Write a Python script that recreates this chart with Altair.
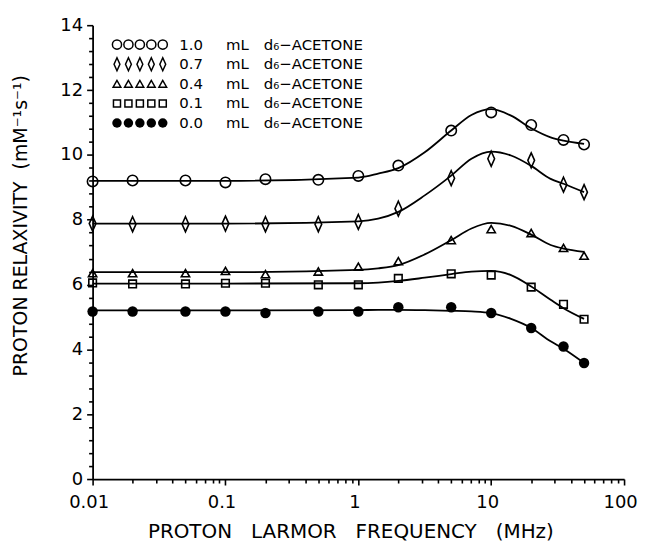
import altair as alt
import pandas as pd

# ---------------- data ----------------
freq = [0.01, 0.02, 0.05, 0.1, 0.2, 0.5, 1, 2, 5, 10, 20, 35, 50]
r_10 = [9.18, 9.21, 9.21, 9.15, 9.25, 9.23, 9.35, 9.67, 10.75, 11.31, 10.92, 10.46, 10.32]
r_07 = [7.88, 7.86, 7.86, 7.88, 7.86, 7.86, 7.93, 8.34, 9.28, 9.88, 9.83, 9.08, 8.85]
r_04 = [6.35, 6.35, 6.35, 6.42, 6.32, 6.40, 6.55, 6.72, 7.37, 7.71, 7.59, 7.13, 6.89]
r_01 = [6.05, 6.02, 6.02, 6.04, 6.04, 5.99, 5.99, 6.19, 6.33, 6.29, 5.92, 5.39, 4.93]
r_00 = [5.17, 5.17, 5.17, 5.17, 5.12, 5.17, 5.17, 5.30, 5.30, 5.12, 4.66, 4.09, 3.58]

curve_freq = [0.01, 0.1, 1, 1.41, 2, 3.16, 5, 7.1, 10, 14.1, 20, 28, 35, 50]
c_10 = [9.20, 9.20, 9.30, 9.42, 9.59, 10.08, 10.75, 11.23, 11.41, 11.21, 10.82, 10.54, 10.44, 10.34]
c_07 = [7.88, 7.88, 7.95, 8.03, 8.24, 8.75, 9.36, 9.88, 10.10, 9.98, 9.66, 9.26, 9.11, 8.85]
c_04 = [6.38, 6.38, 6.45, 6.50, 6.60, 6.93, 7.37, 7.73, 7.90, 7.81, 7.54, 7.22, 7.11, 7.01]
c_01 = [6.03, 6.03, 6.04, 6.06, 6.11, 6.21, 6.32, 6.40, 6.42, 6.29, 5.94, 5.53, 5.27, 4.94]
c_00 = [5.20, 5.20, 5.21, 5.22, 5.22, 5.21, 5.19, 5.17, 5.12, 4.94, 4.66, 4.25, 4.02, 3.58]

volumes = ["1.0", "0.7", "0.4", "0.1", "0.0"]
unit_label = "mL"
solvent_label = "d\u2086\u2212ACETONE"
x_title = "PROTON\u00a0\u00a0 LARMOR\u00a0\u00a0 FREQUENCY\u00a0\u00a0 (MHz)"
y_title = "PROTON RELAXIVITY\u00a0 (mM\u207b\u00b9s\u207b\u00b9)"

series_points = [r_10, r_07, r_04, r_01, r_00]
series_curves = [c_10, c_07, c_04, c_01, c_00]

# ---------------- styles ----------------
DIAMOND = "M0,-1L0.45,0L0,1L-0.45,0Z"
styles = [
    dict(shape="circle", filled=False, size=110),
    dict(shape=DIAMOND, filled=False, size=225),
    dict(shape="triangle-up", filled=False, size=70),
    dict(shape="square", filled=False, size=58),
    dict(shape="circle", filled=True, size=110),
]
legend_sizes = [85, 170, 60, 50, 90]

FONT = "DejaVu Sans"

x_ticks = sorted(set([round(m * 10 ** k, 4) for k in range(-2, 2) for m in range(1, 10)] + [100]))
y_ticks = [round(0.4 * i, 1) for i in range(36)]

X_MAJOR = "indexof([0.01, 0.1, 1, 10, 100], datum.value) >= 0"
Y_MAJOR = "abs(datum.value - 2 * round(datum.value / 2)) < 0.01"

x_axis = alt.Axis(
    values=x_ticks,
    tickCount=500,
    format="~g",
    labelExpr=X_MAJOR + " ? datum.label : ''",
    tickSize={"condition": {"test": X_MAJOR, "value": 6}, "value": 4},
    labelPadding=9,
    labelOffset=-4,
    labelFlush=False,
    labelOverlap=False,
    title=x_title,
    titleX=259,
    titleY=59,
    titleBaseline="alphabetic",
    titleAlign="center",
    titleFontSize=20,
    grid=False,
)
y_axis = alt.Axis(
    values=y_ticks,
    tickCount=500,
    format="~g",
    labelExpr=Y_MAJOR + " ? datum.label : ''",
    tickSize={"condition": {"test": Y_MAJOR, "value": 6}, "value": 4},
    labelPadding=4,
    labelFlush=False,
    labelOverlap=False,
    title=y_title,
    titleX=-72,
    titleY=201,
    titleAngle=-90,
    titleBaseline="middle",
    titleAlign="center",
    titleFontSize=19,
    grid=False,
)

xscale = alt.Scale(type="log", domain=[0.01, 100])
yscale = alt.Scale(domain=[0, 14], nice=False, zero=True)

layers = []
for i in range(5):
    curve_df = pd.DataFrame({"f": curve_freq, "v": series_curves[i]})
    pts_df = pd.DataFrame({"f": freq, "v": series_points[i]})
    line = alt.Chart(curve_df).mark_line(
        color="black", strokeWidth=1.8, interpolate="monotone"
    ).encode(
        x=alt.X("f:Q", scale=xscale, axis=x_axis),
        y=alt.Y("v:Q", scale=yscale, axis=y_axis),
    )
    st = styles[i]
    pts = alt.Chart(pts_df).mark_point(
        shape=st["shape"],
        filled=st["filled"],
        size=st["size"],
        color="black",
        opacity=1,
        strokeWidth=1.6,
    ).encode(x=alt.X("f:Q", scale=xscale), y=alt.Y("v:Q", scale=yscale))
    layers += [line, pts]

# ---------------- legend block (top-left inside plot) ----------------
row_y0, row_dy = 19.5, 19.7
sym_x0, sym_dx = 24.5, 11.5
for i in range(5):
    py = row_y0 + row_dy * i
    st = styles[i]
    one = pd.DataFrame({"t": [volumes[i]]})
    for k in range(5):
        kw = dict(shape=st["shape"], filled=st["filled"], size=legend_sizes[i],
                  color="black", opacity=1, strokeWidth=1.5)
        layers.append(
            alt.Chart(one).mark_point(**kw).encode(x=alt.value(sym_x0 + sym_dx * k), y=alt.value(py))
        )
    txt = dict(align="left", baseline="middle", font=FONT, fontSize=15, color="black")
    layers.append(alt.Chart(one).mark_text(**txt).encode(x=alt.value(87), y=alt.value(py), text="t:N"))
    layers.append(alt.Chart(pd.DataFrame({"t": [unit_label]})).mark_text(**txt).encode(
        x=alt.value(134), y=alt.value(py), text="t:N"))
    layers.append(alt.Chart(pd.DataFrame({"t": [solvent_label]})).mark_text(**txt).encode(
        x=alt.value(172), y=alt.value(py), text="t:N"))

chart = alt.layer(*layers).properties(
    width=534,
    height=456,
    autosize=alt.AutoSizeParams(type="none"),
    padding={"left": 85, "top": 16, "right": 14, "bottom": 64},
).configure_view(stroke=None).configure_axis(
    domainColor="black",
    domainWidth=1.8,
    tickColor="black",
    tickWidth=1.6,
    labelFont=FONT,
    labelFontSize=18,
    labelColor="black",
    titleFont=FONT,
    titleFontWeight="normal",
    titleColor="black",
)

chart.save("out.html", embed_options={"renderer": "svg", "actions": False})
